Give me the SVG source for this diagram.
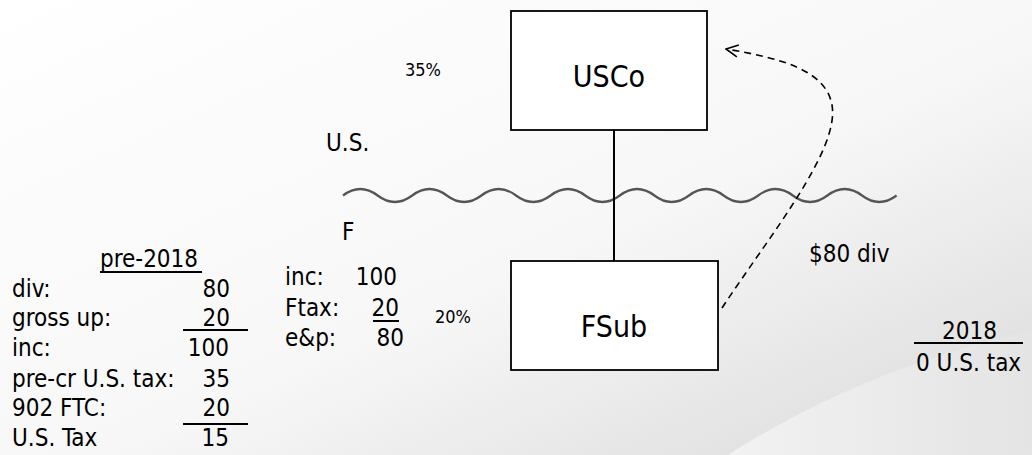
<svg xmlns="http://www.w3.org/2000/svg" width="1032" height="455" viewBox="0 0 1032 455">
<defs>
<linearGradient id="bg" x1="0" y1="0" x2="1" y2="1">
<stop offset="0" stop-color="#ffffff"/>
<stop offset="0.55" stop-color="#f7f7f7"/>
<stop offset="1" stop-color="#d9d9d9"/>
</linearGradient>
<linearGradient id="sw" x1="0" y1="0" x2="1" y2="0">
<stop offset="0" stop-color="#f2f2f2"/>
<stop offset="1" stop-color="#e4e4e4"/>
</linearGradient>
<marker id="open" viewBox="0 0 14 14" refX="13" refY="7" markerWidth="14" markerHeight="14" markerUnits="userSpaceOnUse" orient="auto">
<path d="M1,1 L13,7 L1,13" fill="none" stroke="#000" stroke-width="1.6"/>
</marker>
</defs>
<style>
text{font-family:"DejaVu Sans Condensed","DejaVu Sans",sans-serif;fill:#000;font-size:24px}
.big{font-size:30px}
.sm{font-size:18px}
.box{fill:#fff;stroke:#000;stroke-width:1.8}
.ul{stroke:#000;stroke-width:2}
</style>
<rect x="0" y="0" width="1032" height="455" fill="url(#bg)"/>
<path d="M728,455 Q860,370 1032,330 L1032,455 Z" fill="url(#sw)"/>

<g id="wave">
<path d="M343,195.5 q17.3,-13 34.6,0 t34.6,0 t34.6,0 t34.6,0 t34.6,0 t34.6,0 t34.6,0 t34.6,0 t34.6,0 t34.6,0 t34.6,0 t34.6,0 t34.6,0 t34.6,0 t34.6,0 t34.6,0" fill="none" stroke="#555" stroke-width="2.2"/>
</g>

<g id="connectors">
<line x1="614" y1="130" x2="614" y2="261" stroke="#000" stroke-width="2"/>
<path d="M722,308 C770,235 840,150 832,105 C826,70 780,58 726,49" fill="none" stroke="#000" stroke-width="1.6" stroke-dasharray="7,5" marker-end="url(#open)"/>
</g>

<g id="USCo">
<rect class="box" x="511" y="11" width="196" height="119"/>
<text class="big" x="609" y="87" text-anchor="middle">USCo</text>
</g>

<g id="FSub">
<rect class="box" x="511" y="261" width="207" height="109"/>
<text class="big" x="614" y="337" text-anchor="middle">FSub</text>
</g>

<g id="labels">
<text class="sm" x="405" y="76">35%</text>
<text x="326" y="151">U.S.</text>
<text x="342" y="240">F</text>
<text x="809" y="262">$80 div</text>
<text class="sm" x="435" y="323">20%</text>
</g>

<g id="ftable">
<text x="285" y="285">inc:</text>
<text x="397" y="285" text-anchor="end">100</text>
<text x="285" y="316">Ftax:</text>
<text x="399" y="316" text-anchor="end">20</text>
<line class="ul" x1="373" y1="321" x2="399" y2="321"/>
<text x="285" y="346">e&amp;p:</text>
<text x="404" y="346" text-anchor="end">80</text>
</g>

<g id="pre2018">
<text x="100" y="267">pre-2018</text>
<line class="ul" x1="100" y1="272" x2="202" y2="272"/>
<text x="12" y="297">div:</text>
<text x="230" y="297" text-anchor="end">80</text>
<text x="12" y="326">gross up:</text>
<text x="230" y="326" text-anchor="end">20</text>
<line class="ul" x1="183" y1="330" x2="248" y2="330"/>
<text x="12" y="356">inc:</text>
<text x="229" y="356" text-anchor="end">100</text>
<text x="12" y="387">pre-cr U.S. tax:</text>
<text x="230" y="387" text-anchor="end">35</text>
<text x="12" y="416">902 FTC:</text>
<text x="230" y="416" text-anchor="end">20</text>
<line class="ul" x1="183" y1="424" x2="248" y2="424"/>
<text x="12" y="446">U.S. Tax</text>
<text x="229" y="446" text-anchor="end">15</text>
</g>

<g id="y2018">
<text x="942" y="339">2018</text>
<line class="ul" x1="914" y1="343" x2="1023" y2="343"/>
<text x="916" y="371">0 U.S. tax</text>
</g>
</svg>
